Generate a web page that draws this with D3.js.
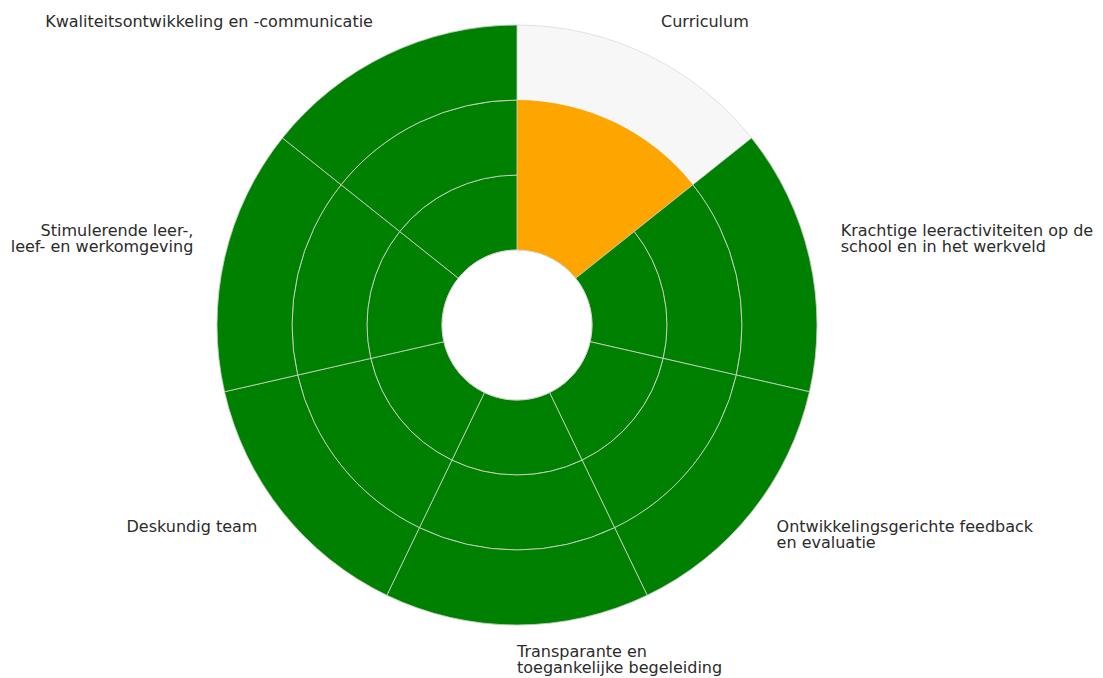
<!DOCTYPE html>
<html>
<head>
<meta charset="utf-8">
<script src="https://cdn.jsdelivr.net/npm/d3@7"></script>
<style>
  html, body { margin: 0; padding: 0; background: #fff; }
  text { font-family: "DejaVu Sans", sans-serif; }
</style>
</head>
<body>
<svg id="chart" width="1103" height="678"></svg>
<script>
const categories = [
  "Curriculum",
  "Krachtige leeractiviteiten op de\nschool en in het werkveld",
  "Ontwikkelingsgerichte feedback\nen evaluatie",
  "Transparante en\ntoegankelijke begeleiding",
  "Deskundig team",
  "Stimulerende leer-,\nleef- en werkomgeving",
  "Kwaliteitsontwikkeling en -communicatie"
];
const scores = [2, 3, 3, 3, 3, 3, 3];
const levels = [1, 2, 3];
const maxLevel = 3;
const scoreColors = { 1: "#ff0000", 2: "#ffa500", 3: "#008000" };

const svg = d3.select("#chart");
const cx = 517, cy = 325;
const g = svg.append("g").attr("transform", `translate(${cx},${cy})`);

const angle = d3.scaleBand().domain(categories).range([0, 2 * Math.PI]).padding(0);
const radius = d3.scaleLinear().domain([0, maxLevel]).range([75, 300]);

const arc = d3.arc();

// background (unfilled) sectors
g.selectAll("path.bg")
  .data(categories)
  .join("path")
  .attr("class", "bg")
  .attr("d", d => arc({
    innerRadius: radius(0), outerRadius: radius(maxLevel),
    startAngle: angle(d), endAngle: angle(d) + angle.bandwidth()
  }))
  .attr("fill", "#f7f7f7")
  .attr("stroke", "#e2e2e2")
  .attr("stroke-width", 1);

// filled cells
const cells = [];
categories.forEach((c, i) => {
  const s = scores[i];
  if (s === maxLevel) {
    levels.forEach(l => cells.push({ c, lo: l - 1, hi: l, s }));
  } else if (s > 0) {
    cells.push({ c, lo: 0, hi: s, s });
  }
});

g.selectAll("path.cell")
  .data(cells)
  .join("path")
  .attr("class", "cell")
  .attr("d", d => arc({
    innerRadius: radius(d.lo), outerRadius: radius(d.hi),
    startAngle: angle(d.c), endAngle: angle(d.c) + angle.bandwidth()
  }))
  .attr("fill", d => scoreColors[d.s])
  .attr("stroke", d => d.s === maxLevel ? "rgba(215,215,215,0.75)" : "none")
  .attr("stroke-width", 1);

// central hole
g.append("circle")
  .attr("r", radius(0))
  .attr("fill", "#ffffff")
  .attr("stroke", "#cfcfcf")
  .attr("stroke-width", 1);

// labels
const labelR = 332;
const lineH = 16;
g.selectAll("text.lbl")
  .data(categories)
  .join("text")
  .attr("class", "lbl")
  .attr("font-size", 16)
  .attr("fill", "#2b2b2b")
  .each(function(d) {
    const a = angle(d) + angle.bandwidth() / 2;
    const x = labelR * Math.sin(a);
    const y = -labelR * Math.cos(a);
    const lines = d.split("\n");
    const deg = a * 180 / Math.PI;
    const anchor = (deg > 0.5 && deg <= 180.5) ? "start" : "end";
    const upper = Math.cos(a) > 0;
    const y0 = upper ? y - (lines.length - 1) * lineH + 1 : y;
    const t = d3.select(this).attr("text-anchor", anchor);
    lines.forEach((ln, k) => {
      t.append("tspan").attr("x", x).attr("y", y0 + k * lineH).text(ln);
    });
  });
</script>
</body>
</html>
